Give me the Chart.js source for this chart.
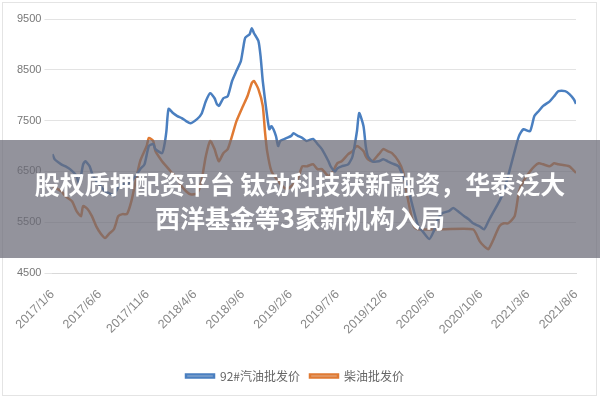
<!DOCTYPE html>
<html><head><meta charset="utf-8">
<script src="https://cdn.jsdelivr.net/npm/chart.js@4/dist/chart.umd.min.js"></script>
<style>html,body{margin:0;padding:0;background:#fff}#w{width:600px;height:400px;position:relative}</style>
</head><body><div id="w"><canvas id="c"></canvas></div>
<script>
const tickLabels=["2017/1/6","2017/6/6","2017/11/6","2018/4/6","2018/9/6","2019/2/6","2019/7/6","2019/12/6","2020/5/6","2020/10/6","2021/3/6","2021/8/6"];
const tickWeeks=[0,21.6,43.4,65,86.9,108.7,130.1,152,173.7,195.6,217.1,239];
const gasWeeks=[0,1,4,6,8,11,12,13,14,15,17,18,20,22,24,27,28,29,31,34,36,38,40,42,44,46,47,50,51,52,53,55,57,59,61,63,66,68,70,72,74,75,76,78,80,82,84,86,87,88,90,91,92,94,95,96,98,99,100,102,103,104,106,109,110,112,114,116,119,121,123,126,127,129,130,132,135,137,139,140,142,143,144,146,149,151,153,155,158,160,162,165,167,169,172,174,176,178,181,183,185,188,190,192,195,197,199,201,204,206,208,211,213,215,218,220,222,224,227,229,231,234,236,238,239];
const gasValues=[6840,6740,6640,6600,6545,6410,6270,6410,6640,6700,6600,6470,6310,6210,6110,6050,6010,6110,6250,6250,6310,6410,6545,6640,7000,7040,6940,6860,7000,7290,7730,7650,7590,7550,7490,7450,7530,7630,7880,8040,7940,7830,7790,7940,7980,8280,8480,8670,8910,9130,9200,9320,9220,9070,8770,8280,7590,7330,7390,7200,7000,7100,7140,7200,7250,7200,7160,7100,7140,7040,6940,6700,6600,6500,6560,6600,6640,6800,7290,7650,7390,7000,6800,6700,6700,6740,6700,6660,6600,6410,6210,5720,5420,5320,5170,5320,5560,5680,5720,5780,5720,5620,5560,5480,5420,5360,5520,5680,5910,6110,6410,6900,7200,7330,7290,7590,7690,7790,7880,7980,8080,8080,8020,7920,7830];
const dieselWeeks=[0,4,6,9,11,13,14,16,18,20,22,24,26,28,29,30,32,34,36,38,40,43,44,46,47,50,52,54,57,59,61,63,66,68,70,72,74,75,76,78,80,82,84,87,89,91,92,94,96,97,98,100,103,105,107,109,112,114,116,119,121,123,126,128,130,132,135,137,139,142,143,144,146,149,151,153,155,158,160,162,165,167,178,192,195,197,199,201,204,206,208,211,213,215,218,220,222,224,227,229,231,236,239];
const dieselValues=[6210,6110,6010,5910,5720,5620,5820,5760,5620,5420,5280,5190,5280,5360,5480,5620,5660,5660,5910,6310,6700,7000,7160,7100,6900,6700,6600,6500,6350,6210,6110,6050,6070,6310,6800,7100,6940,6800,6700,6860,6940,7200,7490,7790,7980,8240,8280,8120,7790,7290,6900,6500,6310,6210,6150,6210,6350,6600,6600,6640,6545,6545,6410,6500,6660,6700,6840,6900,7000,6900,6800,6740,6700,6840,6940,6900,6860,6700,6500,6010,5420,5360,5360,5360,5130,5030,4970,5130,5420,5480,5480,5620,6110,6310,6500,6600,6660,6640,6600,6660,6640,6600,6470];
const seriesNames=["92#汽油批发价","柴油批发价"];
const titleLines=["股权质押配资平台 钛动科技获新融资，华泰泛大","西洋基金等3家新机构入局"];
const zip=(a,b)=>a.map((x,i)=>({x:x,y:b[i]}));
const overlay={id:'ov',afterDraw(ch){const c=ch.ctx;c.save();
c.strokeStyle='#e4e4e4';c.lineWidth=1;c.strokeRect(2.5,2.5,594,393);
c.fillStyle='rgba(105,105,118,0.72)';c.fillRect(0,140,600,118);
c.fillStyle='#fff';c.font='bold 25px "Noto Sans CJK SC"';c.textAlign='center';c.textBaseline='middle';
c.fillText(titleLines[0],300,184);c.fillText(titleLines[1],300,218);c.restore();}};
new Chart(document.getElementById('c'),{type:'line',
data:{datasets:[
{label:seriesNames[0],data:zip(gasWeeks,gasValues),borderColor:'#4a7fc0',borderWidth:2.5,pointRadius:0,tension:0.2},
{label:seriesNames[1],data:zip(dieselWeeks,dieselValues),borderColor:'#e07a33',borderWidth:2.5,pointRadius:0,tension:0.2}]},
options:{responsive:true,maintainAspectRatio:false,animation:false,
layout:{padding:{left:14,right:24,top:19,bottom:8}},
plugins:{legend:{position:'bottom',labels:{boxWidth:28,boxHeight:3,padding:10,color:'#666',font:{size:12,family:'"Noto Sans CJK SC"'}}},tooltip:{enabled:false}},
scales:{
x:{type:'linear',min:0,max:239,afterBuildTicks(ax){ax.ticks=tickWeeks.map(v=>({value:v}));},
ticks:{autoSkip:false,maxRotation:45,minRotation:45,padding:6,color:'#888',font:{size:12.5}},
afterTickToLabelConversion(ax){ax.ticks.forEach((t,i)=>t.label=tickLabels[i]);},
afterFit(ax){ax.height+=17;},
grid:{display:false},border:{color:'#d9d9d9'}},
y:{min:4500,max:9500,ticks:{stepSize:1000,color:'#777',font:{size:11},callback:v=>String(v)},grid:{color:'#e3e3e3'},border:{display:false}}}},
plugins:[overlay]});
</script></body></html>
